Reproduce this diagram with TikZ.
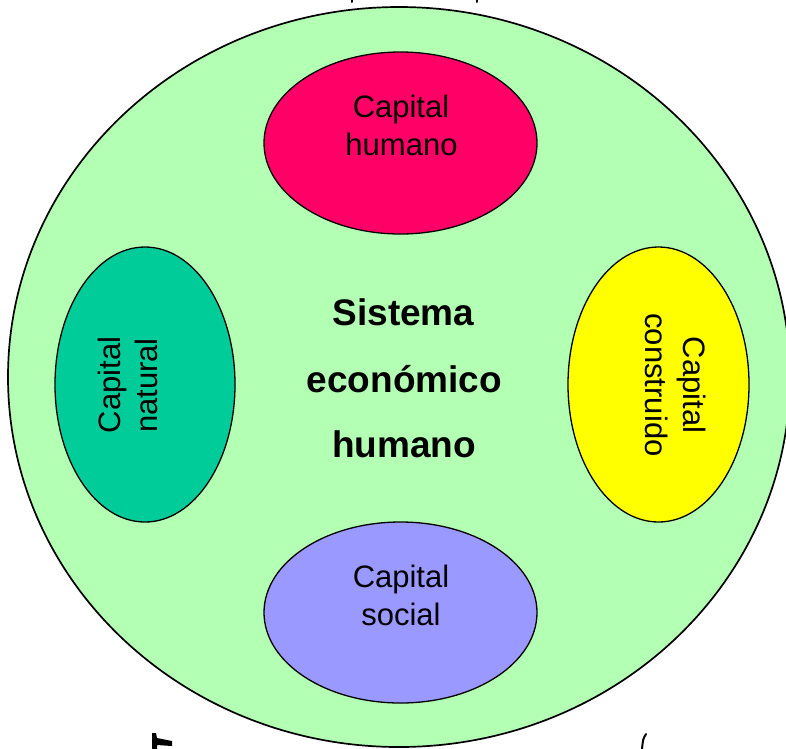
\documentclass[tikz,border=0pt]{standalone}
\usepackage{fontspec}
\setmainfont{Liberation Sans}
\usetikzlibrary{shapes.geometric}
\definecolor{bgreen}{HTML}{B3FFB3}
\definecolor{chred}{HTML}{FF0066}
\definecolor{cnteal}{HTML}{00CC99}
\definecolor{ccyellow}{HTML}{FFFF00}
\definecolor{cslav}{HTML}{9999FF}
\tikzset{
  oval/.style={ellipse, draw=black, line width=1.3pt, inner sep=0pt, outer sep=0pt},
  lbl/.style={inner sep=0pt, outer sep=0pt, anchor=base, font=\fontsize{31}{38}\selectfont},
  blbl/.style={inner sep=0pt, outer sep=0pt, anchor=base, font=\fontsize{37}{44}\selectfont\bfseries},
  frag/.style={line width=2pt, line cap=round}
}
\begin{document}
\begin{tikzpicture}[x=1pt,y=-1pt]
\useasboundingbox (0,0) rectangle (786,748);
\clip (0,0) rectangle (786,748);
\fill[white] (0,0) rectangle (786,748);
% outer system
\node[oval, line width=1.7pt, fill=bgreen, minimum width=782pt, minimum height=740pt] (sys) at (399,377) {};
% capitals
\node[oval, fill=chred, minimum width=273pt, minimum height=182pt] (hum) at (400.5,143) {};
\node[oval, fill=cslav, minimum width=273pt, minimum height=181pt] (soc) at (400.5,612.5) {};
\node[oval, fill=cnteal, minimum width=180pt, minimum height=275pt] (nat) at (145,384.5) {};
\node[oval, fill=ccyellow, minimum width=181pt, minimum height=275pt] (con) at (658.5,384.5) {};
% labels
\node[lbl] (hum1) at (401,117) {Capital};
\node[lbl] (hum2) at (401.5,155) {humano};
\node[lbl] (soc1) at (401,587) {Capital};
\node[lbl] (soc2) at (401,625) {social};
\node[lbl, rotate=90] (nat1) at (120,385) {Capital};
\node[lbl, rotate=90] (nat2) at (157,385.5) {natural};
\node[lbl, rotate=-90] (con1) at (683,385) {Capital};
\node[lbl, rotate=-90] (con2) at (645,385) {construido};
\node[blbl] (s1) at (403.5,325) {Sistema};
\node[blbl] (s2) at (404.5,392) {económico};
\node[blbl] (s3) at (404,457) {humano};
% cut-off fragments at the edges
\draw[frag] (352,-1) -- (352,2);
\draw[frag] (477,-1) -- (477,2);
\fill[black] (152,733) -- (156,733) -- (157,738) -- (172,741) -- (172,746) -- (157,745) -- (157,749) -- (152,749) -- cycle;
\draw[frag] (646,734) .. controls (643,739) .. (642,749);
\end{tikzpicture}
\end{document}
